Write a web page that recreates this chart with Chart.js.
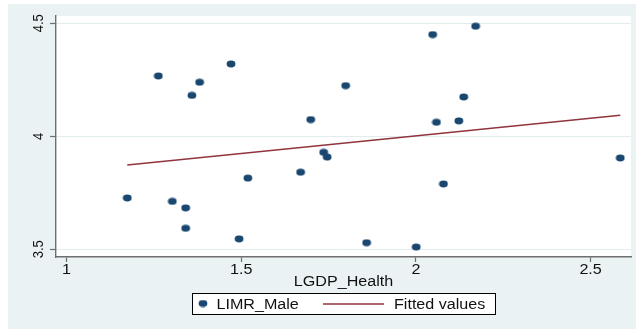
<!DOCTYPE html>
<html>
<head>
<meta charset="utf-8">
<script src="https://cdn.jsdelivr.net/npm/chart.js@4.4.1/dist/chart.umd.min.js"></script>
<style>
  html, body { margin: 0; padding: 0; background: #ffffff; }
  #wrap { width: 636px; height: 329px; }
</style>
</head>
<body>
<div id="wrap"><canvas id="c" width="636" height="329"></canvas></div>
<script>
// LGDP_Health (x) against LIMR_Male (y)
const lgdpHealth = [1.263, 1.359, 1.381, 1.471, 1.699, 1.799, 2.048, 2.171, 2.137, 2.059, 2.123, 1.736,
                    1.746, 2.585, 1.174, 1.303, 1.341, 1.341, 1.494, 1.519, 1.670, 2.079, 1.859, 2.001];
const limrMale   = [4.267, 4.181, 4.239, 4.320, 4.074, 4.224, 4.450, 4.487, 4.174, 4.062, 4.068, 3.929,
                    3.908, 3.904, 3.727, 3.712, 3.683, 3.593, 3.546, 3.815, 3.841, 3.789, 3.529, 3.510];

// Fitted values line (end points)
const fitX = [1.174, 2.585];
const fitY = [3.873, 4.093];

const xTicks = [1, 1.5, 2, 2.5];
const yTicks = [3.5, 4, 4.5];
const xTickLabels = ['1', '1.5', '2', '2.5'];
const yTickLabels = ['3.5', '4', '4.5'];

const xTitle = 'LGDP_Health';

const NAVY = '#1a476f';
const MAROON = '#90353b';
const BG = '#eaf2f3';
const AXIS = '#6e6e6e';
const FONT = '"Liberation Sans", Arial, sans-serif';
const STRETCH = 1.15;

// slightly wide oval marker
function makeMarker() {
  const m = document.createElement('canvas');
  m.width = 10; m.height = 8;
  const g = m.getContext('2d');
  g.fillStyle = NAVY;
  g.beginPath();
  g.ellipse(5, 4, 4.4, 3.4, 0, 0, Math.PI * 2);
  g.fill();
  return m;
}
const marker = makeMarker();

const scatterPts = lgdpHealth.map((x, i) => ({ x: x, y: limrMale[i] }));
const fitPts = fitX.map((x, i) => ({ x: x, y: fitY[i] }));

function wideText(ctx, text, x, y, align) {
  ctx.save();
  ctx.translate(x, y);
  ctx.scale(STRETCH, 1);
  ctx.textAlign = align || 'left';
  ctx.fillText(text, 0, 0);
  ctx.restore();
}

const backdrop = {
  id: 'backdrop',
  beforeDraw(chart) {
    const ctx = chart.ctx;
    const a = chart.chartArea;
    ctx.save();
    ctx.fillStyle = '#ffffff';
    ctx.fillRect(0, 0, chart.width, chart.height);
    ctx.fillStyle = BG;
    ctx.fillRect(8, 4, chart.width - 8, chart.height - 4);
    ctx.fillStyle = '#ffffff';
    ctx.fillRect(a.left, a.top, a.right - a.left, a.bottom - a.top);
    ctx.restore();
  },
  afterDraw(chart) {
    const ctx = chart.ctx;
    const xs = chart.scales.x, ys = chart.scales.y;
    ctx.save();
    ctx.fillStyle = '#111111';
    ctx.textBaseline = 'alphabetic';

    // x tick labels
    ctx.font = '14px ' + FONT;
    xTicks.forEach((v, i) => {
      wideText(ctx, xTickLabels[i], xs.getPixelForValue(v), 274, 'center');
    });

    // x axis title
    wideText(ctx, xTitle, (chart.chartArea.left + chart.chartArea.right) / 2, 285.5, 'center');

    // y tick labels, rotated
    ctx.font = '13px ' + FONT;
    yTicks.forEach((v, i) => {
      ctx.save();
      ctx.translate(43, ys.getPixelForValue(v));
      ctx.scale(STRETCH, 1);
      ctx.rotate(-Math.PI / 2);
      ctx.textAlign = 'center';
      ctx.fillText(yTickLabels[i], 0, 0);
      ctx.restore();
    });

    // legend
    const lx = 192, ly = 293, lw = 303, lh = 21;
    ctx.fillStyle = '#ffffff';
    ctx.fillRect(lx, ly, lw, lh);
    ctx.strokeStyle = '#000000';
    ctx.lineWidth = 1;
    ctx.strokeRect(lx + 0.5, ly + 0.5, lw, lh);

    const ds = chart.data.datasets;
    ctx.drawImage(marker, 203 - 5, 303.5 - 4);
    ctx.fillStyle = '#111111';
    ctx.font = '14px ' + FONT;
    wideText(ctx, ds[1].label, 216.5, 308.5, 'left');

    ctx.strokeStyle = MAROON;
    ctx.lineWidth = 1.6;
    ctx.beginPath();
    ctx.moveTo(323, 304);
    ctx.lineTo(384, 304);
    ctx.stroke();
    ctx.fillStyle = '#111111';
    wideText(ctx, ds[0].label, 394, 308.5, 'left');
    ctx.restore();
  }
};

new Chart(document.getElementById('c'), {
  type: 'scatter',
  data: {
    datasets: [
      {
        label: 'Fitted values',
        data: fitPts,
        showLine: true,
        borderColor: MAROON,
        borderWidth: 1.6,
        pointRadius: 0,
        pointHoverRadius: 0,
        order: 0
      },
      {
        label: 'LIMR_Male',
        data: scatterPts,
        pointStyle: marker,
        pointRadius: 4,
        order: 1
      }
    ]
  },
  options: {
    responsive: false,
    animation: false,
    devicePixelRatio: 1,
    layout: { padding: { top: 16, right: 4, left: 0, bottom: 0 } },
    plugins: {
      legend: { display: false },
      tooltip: { enabled: false }
    },
    events: [],
    scales: {
      x: {
        type: 'linear',
        min: 0.97,
        max: 2.6157,
        afterBuildTicks(s) { s.ticks = xTicks.map(v => ({ value: v })); },
        afterFit(s) { s.height = 72; },
        ticks: { display: false },
        grid: { drawOnChartArea: false, drawTicks: true, tickLength: 5, tickColor: AXIS, tickWidth: 1.2 },
        border: { display: true, color: AXIS, width: 1.4 }
      },
      y: {
        type: 'linear',
        min: 3.4659,
        max: 4.5323,
        afterBuildTicks(s) { s.ticks = yTicks.map(v => ({ value: v })); },
        afterFit(s) { s.width = 56; },
        ticks: { display: false },
        grid: { color: '#e2ecee', lineWidth: 1, drawTicks: true, tickLength: 6, tickColor: AXIS, tickWidth: 1.2 },
        border: { display: true, color: AXIS, width: 1.4 }
      }
    }
  },
  plugins: [backdrop]
});
</script>
</body>
</html>
